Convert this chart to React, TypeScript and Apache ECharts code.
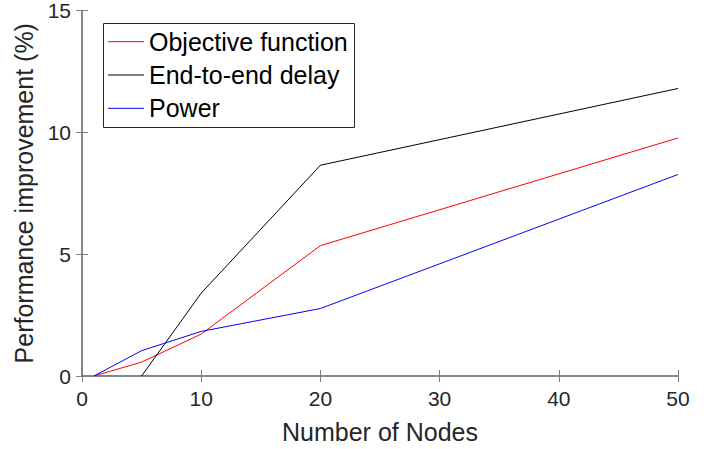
import React, { useEffect, useRef } from "react";
import * as echarts from "echarts";

const nodeCounts = [1, 5, 10, 20, 50];
const objectiveFunction = [0, 0.57, 1.72, 5.35, 9.77];
const endToEndDelay: (number | null)[] = [null, 0, 3.4, 8.65, 11.8];
const power = [0, 1.04, 1.83, 2.77, 8.27];
const seriesNames = ["Objective function", "End-to-end delay", "Power"];
const seriesColors = ["#ff0000", "#000000", "#0000ff"];

const FONT = "'Liberation Sans', Arial, Helvetica, sans-serif";
const AXIS_COLOR = "#7f7f7f";
const TEXT_COLOR = "#262626";

function pairs(vals: (number | null)[]) {
  const out: [number, number][] = [];
  vals.forEach((v, i) => {
    if (v !== null && v !== undefined) out.push([nodeCounts[i], v]);
  });
  return out;
}

export default function App() {
  const ref = useRef<HTMLDivElement>(null);
  useEffect(() => {
    if (!ref.current) return;
    const chart = echarts.init(ref.current, undefined, { renderer: "svg" });
    const axisLine = { show: true, lineStyle: { color: AXIS_COLOR, width: 1.5 } };
    const axisTick = { show: true, inside: true, length: 6, lineStyle: { color: AXIS_COLOR, width: 1 } };
    const seriesValues = [objectiveFunction, endToEndDelay, power];

    // legend box drawn as graphic
    const legendLeft = 103.5;
    const legendTop = 23.5;
    const rowH = 33.3;
    const firstRow = 41.7;
    const legendChildren: any[] = [
      {
        type: "rect",
        shape: { x: legendLeft, y: legendTop, width: 251, height: 104 },
        style: { fill: "#ffffff", stroke: "#262626", lineWidth: 1 },
        z: 10,
      },
    ];
    seriesNames.forEach((n, i) => {
      const cy = firstRow + i * rowH;
      legendChildren.push({
        type: "line",
        shape: { x1: 108, y1: cy, x2: 144, y2: cy },
        style: { stroke: seriesColors[i], lineWidth: 1 },
        z: 11,
      });
      legendChildren.push({
        type: "text",
        x: 149,
        y: cy,
        style: {
          text: n,
          fill: "#000000",
          font: `25px ${FONT}`,
          textVerticalAlign: "middle",
          verticalAlign: "middle",
        },
        z: 11,
      });
    });

    chart.setOption({
      animation: false,
      backgroundColor: "#ffffff",
      textStyle: { fontFamily: FONT },
      grid: { left: 82, right: 29, top: 10, bottom: 72, containLabel: false },
      graphic: legendChildren,
      xAxis: [
        {
          type: "value",
          min: 0,
          max: 50,
          interval: 10,
          position: "bottom",
          name: "Number of Nodes",
          nameLocation: "middle",
          nameGap: 43,
          nameTextStyle: { fontFamily: FONT, fontSize: 25, color: TEXT_COLOR },
          axisLine,
          axisTick,
          axisLabel: { fontFamily: FONT, fontSize: 21, color: TEXT_COLOR, margin: 12 },
          splitLine: { show: false },
        },
        {
          type: "value",
          min: 0,
          max: 50,
          interval: 10,
          position: "top",
          axisLine,
          axisTick,
          axisLabel: { show: false },
          splitLine: { show: false },
        },
      ],
      yAxis: [
        {
          type: "value",
          min: 0,
          max: 15,
          interval: 5,
          position: "left",
          name: "Performance improvement (%)",
          nameLocation: "middle",
          nameGap: 44,
          nameTextStyle: { fontFamily: FONT, fontSize: 25, color: TEXT_COLOR },
          axisLine,
          axisTick,
          axisLabel: { fontFamily: FONT, fontSize: 21, color: TEXT_COLOR, margin: 11 },
          splitLine: { show: false },
        },
        {
          type: "value",
          min: 0,
          max: 15,
          interval: 5,
          position: "right",
          axisLine,
          axisTick,
          axisLabel: { show: false },
          splitLine: { show: false },
        },
      ],
      series: seriesNames.map((n, i) => ({
        name: n,
        type: "line",
        data: pairs(seriesValues[i]),
        symbol: "none",
        color: seriesColors[i],
        lineStyle: { color: seriesColors[i], width: 1 },
        itemStyle: { color: seriesColors[i] },
        z: 3,
      })),
    });
    return () => chart.dispose();
  }, []);
  return <div ref={ref} style={{ width: 707, height: 449, position: "absolute", left: 0, top: 0 }} />;
}
